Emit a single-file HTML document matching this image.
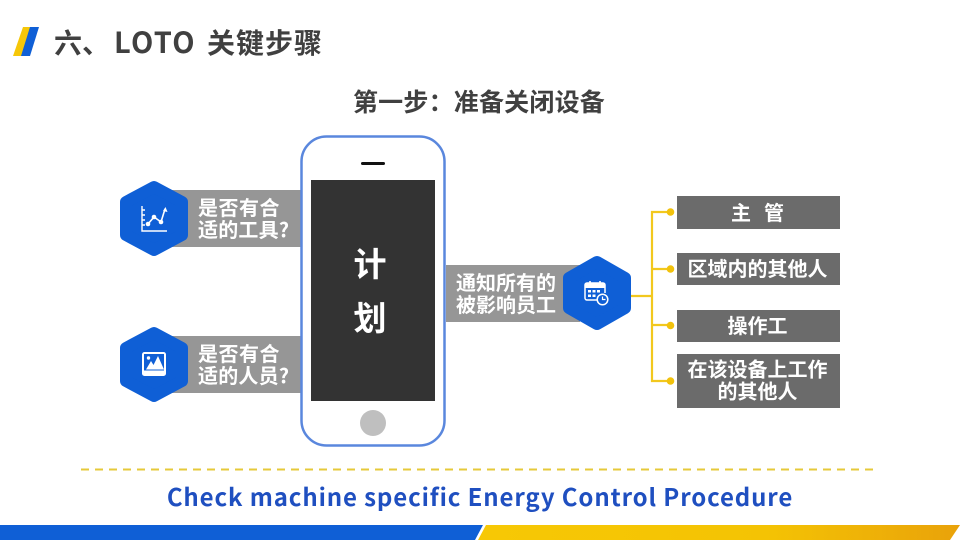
<!DOCTYPE html>
<html lang="zh">
<head>
<meta charset="utf-8">
<style>
html,body{margin:0;padding:0;background:#fff;}
svg{display:block;}
text{font-family:"Noto Sans CJK SC","Liberation Sans",sans-serif;font-weight:700;}
</style>
</head>
<body>
<svg width="960" height="540" viewBox="0 0 960 540" xmlns="http://www.w3.org/2000/svg">
<defs>
<linearGradient id="yg" x1="0" y1="0" x2="1" y2="0"><stop offset="0" stop-color="#f7c805"/><stop offset="0.6" stop-color="#f4c304"/><stop offset="1" stop-color="#e9a20a"/></linearGradient>
</defs>
<rect width="960" height="540" fill="#fff"/>

<!-- logo -->
<polygon points="23,27 32,27 23,56 13,56" fill="#f6c708"/>
<polygon points="30,27 39,27 30,56 21,56" fill="#0f5fd6"/>
<text x="54" y="53" font-size="28" fill="#404040">六、</text>
<text x="114" y="53" font-size="29" fill="#404040" letter-spacing="1.300">LOTO</text>
<text x="207" y="53" font-size="28" fill="#404040" letter-spacing="1">关键步骤</text>

<text x="479" y="111" font-size="25" fill="#404040" text-anchor="middle" letter-spacing="0.200">第一步：准备关闭设备</text>

<!-- left bars -->
<rect x="165" y="190" width="137" height="57" fill="#969696"/>
<rect x="165" y="336" width="137" height="57" fill="#969696"/>
<text x="198" y="215" font-size="20" fill="#fff" letter-spacing="0.500">是否有合</text>
<text x="198" y="237" font-size="20" fill="#fff" letter-spacing="0.200">适的工具?</text>
<text x="198" y="361" font-size="20" fill="#fff" letter-spacing="0.500">是否有合</text>
<text x="198" y="383" font-size="20" fill="#fff" letter-spacing="0.200">适的人员?</text>

<!-- hex left -->
<polygon points="154,187 182,202 182,235 154,250 126,235 126,202" fill="#0f5fd6" stroke="#0f5fd6" stroke-width="12" stroke-linejoin="round"/>
<polygon points="154,333 182,348 182,381 154,396 126,381 126,348" fill="#0f5fd6" stroke="#0f5fd6" stroke-width="12" stroke-linejoin="round"/>

<!-- chart icon -->
<g fill="none" stroke="#fff" stroke-width="1.400">
<path d="M142,206V231H167"/>
<path d="M142,210h3M142,215h3M142,220h3M142,225h3"/>
<path d="M148,224L154,217L161,222L165,209" stroke-width="1.600"/>
</g>
<g fill="#fff"><circle cx="148" cy="224" r="2.300"/><circle cx="154" cy="217" r="2.300"/><circle cx="161" cy="222" r="2.300"/><polygon points="165.500,207 167.500,212 163,211"/></g>

<!-- image icon -->
<rect x="142" y="352" width="24" height="24" rx="2.500" fill="#fff"/>
<rect x="144" y="354" width="20" height="16.500" fill="#0f5fd6"/>
<polygon points="146,369.500 151,361 153.500,365 158,356 164,369.500" fill="#fff"/>
<circle cx="148.500" cy="358" r="1.700" fill="#fff"/>

<!-- phone -->
<rect x="301.500" y="136.500" width="143" height="309" rx="25" ry="25" fill="#fff" stroke="#5a87dd" stroke-width="2.500"/>
<rect x="311" y="180" width="124" height="221" fill="#333333"/>
<rect x="361" y="162" width="24" height="3" rx="1.500" fill="#111"/>
<circle cx="373" cy="423" r="13" fill="#bfbfbf"/>
<text x="370" y="276" font-size="33" fill="#fff" text-anchor="middle">计</text>
<text x="370" y="330" font-size="33" fill="#fff" text-anchor="middle">划</text>

<!-- right bar -->
<rect x="446" y="265" width="134" height="57" fill="#969696"/>
<text x="456" y="290" font-size="20" fill="#fff">通知所有的</text>
<text x="456" y="312" font-size="20" fill="#fff">被影响员工</text>
<polygon points="597,262 625,278 625,308 597,324 569,308 569,278" fill="#0f5fd6" stroke="#0f5fd6" stroke-width="12" stroke-linejoin="round"/>

<!-- calendar icon -->
<g fill="none" stroke="#fff" stroke-width="1.500">
<path d="M603,300H587a2,2 0 0 1-2-2V285a2,2 0 0 1 2-2H603a2,2 0 0 1 2,2V293"/>
<path d="M590,281V286M600,281V286" stroke-width="1.600"/>
<circle cx="602.500" cy="299.500" r="5.300" fill="#0f5fd6"/>
<path d="M602.500,296.500V299.500H605.500" stroke-width="1.200"/>
</g>
<rect x="585" y="283" width="20" height="5" fill="#fff"/>
<g fill="#fff"><rect x="588" y="290" width="3" height="2.500"/><rect x="592.500" y="290" width="3" height="2.500"/><rect x="597" y="290" width="3" height="2.500"/><rect x="588" y="294.500" width="3" height="2.500"/><rect x="592.500" y="294.500" width="3" height="2.500"/></g>

<!-- connectors -->
<g fill="none" stroke="#f2c81e" stroke-width="2.200">
<path d="M631,296H651"/>
<path d="M670,212H652V381H670"/>
<path d="M652,269H670M652,325H670"/>
</g>
<g fill="#f2c20c"><circle cx="670.500" cy="212" r="3.800"/><circle cx="670.500" cy="269" r="3.800"/><circle cx="670.500" cy="325.500" r="3.800"/><circle cx="670.500" cy="381" r="3.800"/></g>

<!-- right boxes -->
<g fill="#6b6b6b">
<rect x="677" y="196" width="163" height="33"/>
<rect x="677" y="253" width="163" height="32"/>
<rect x="677" y="310" width="163" height="32"/>
<rect x="677" y="354" width="163" height="54"/>
</g>
<g fill="#fff" font-size="20" text-anchor="middle">
<text x="741" y="220">主</text>
<text x="774" y="220">管</text>
<text x="757.500" y="276">区域内的其他人</text>
<text x="757.500" y="333">操作工</text>
<text x="757.500" y="376.500">在该设备上工作</text>
<text x="757.500" y="398.500">的其他人</text>
</g>

<!-- dashed line -->
<line x1="81" y1="469.500" x2="873" y2="469.500" stroke="#e6c93a" stroke-width="2" stroke-dasharray="8 6"/>
<text x="480" y="506" font-size="24" fill="#1f4fc0" text-anchor="middle" letter-spacing="0.880">Check machine specific Energy Control Procedure</text>

<!-- footer -->
<polygon points="0,525 483,525 475,540 0,540" fill="#0f5fd6"/>
<polygon points="486,525 960,525 950,540 478,540" fill="url(#yg)"/>
</svg>
</body>
</html>
